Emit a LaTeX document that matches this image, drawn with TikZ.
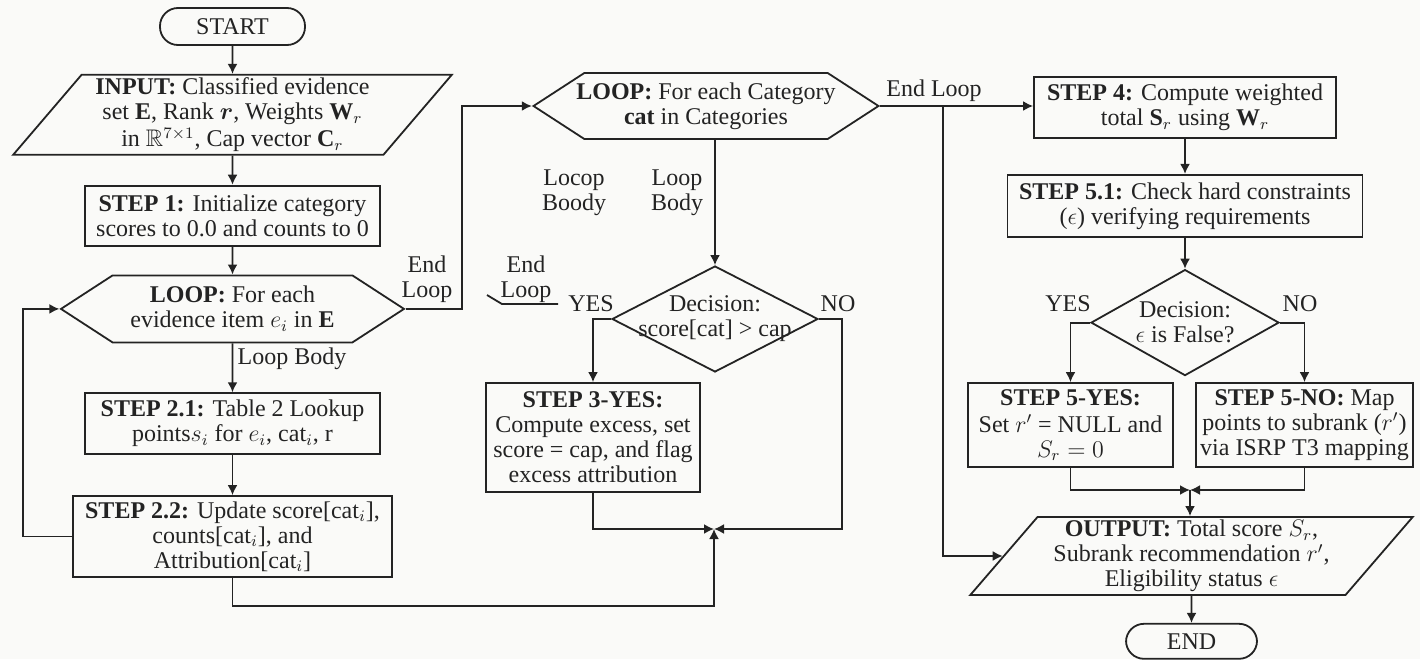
\documentclass[tikz,border=0pt]{standalone}
\usepackage{amsmath}
\usepackage{amsfonts}
\usepackage{fontspec}
\setmainfont{Liberation Serif}
\usetikzlibrary{shapes.geometric,shapes.symbols,arrows.meta,positioning}
\definecolor{paper}{RGB}{250,250,248}
\definecolor{ink}{RGB}{35,35,35}

\begin{document}
\begin{tikzpicture}[x=0.5pt, y=-0.5pt, >={Latex[length=5pt,width=5pt]},
    font=\fontsize{12}{12.5}\selectfont, line width=0.9pt, color=ink,
    box/.style={draw, rectangle, align=center, inner sep=2pt},
    term/.style={draw, rectangle, rounded corners=9pt, align=center, inner sep=1pt},
    io/.style={draw, trapezium, trapezium left angle=50, trapezium right angle=130, align=center, inner sep=0pt, trapezium stretches=true},
    hexa/.style={draw, signal, signal to=east and west, signal pointer angle=66, align=center, inner xsep=-5pt, inner ysep=2pt},
    decide/.style={draw, diamond, inner sep=0pt},
    lbl/.style={align=center, inner sep=1pt}]
    \fill[paper] (0,0) rectangle (1420,659);

    \node[term, minimum width=72.5pt, minimum height=18.5pt] (start) at (232.5,26.5) {START};
    \node[io, below=14pt of start, minimum width=220pt, minimum height=40pt] (input) {\textbf{INPUT:} Classified evidence\\ set $\mathbf{E}$, Rank $\boldsymbol{r}$, Weights $\mathbf{W}_r$\\[1pt] in $\mathbb{R}^{7\times1}$, Cap vector $\mathbf{C}_r$};
    \node[box, below=14.5pt of input, minimum width=147.5pt, minimum height=30pt] (step1) {\textbf{STEP 1:} Initialize category\\ scores to 0.0 and counts to 0};
    \node[hexa, below=14pt of step1, minimum width=171.5pt, minimum height=33.5pt] (loop1) {\textbf{LOOP:} For each\\ evidence item $e_i$ in $\mathbf{E}$};
    \node[box, below=24.5pt of loop1, minimum width=147.5pt, minimum height=30.5pt] (step21) {\textbf{STEP 2.1:} Table 2 Lookup\\ points$s_i$ for $e_i$, cat$_i$, r};
    \node[box, below=20pt of step21, minimum width=159.5pt, minimum height=40.5pt] (step22) {\textbf{STEP 2.2:} Update score[cat$_i$],\\ counts[cat$_i$], and\\ Attribution[cat$_i$]};

    \node[hexa, minimum width=172.5pt, minimum height=33pt] (loop2) at (706,106) {\textbf{LOOP:} For each Category\\ \textbf{cat} in Categories};
    \node[decide, minimum width=103pt, minimum height=53pt, label={[align=center]center:Decision:\\ score[cat] > cap}] (dec1) at (715,319) {};
    \node[box, minimum width=107pt, minimum height=54.5pt] (step3) at (593,437.5) {\textbf{STEP 3-YES:}\\ Compute excess, set\\ score = cap, and flag\\ excess attribution};
    \coordinate (join1) at (714,529);

    \node[box, minimum width=151pt, minimum height=30.5pt] (step4) at (1185,107.5) {\textbf{STEP 4:} Compute weighted\\ total $\mathbf{S}_r$ using $\mathbf{W}_r$};
    \node[box, below=17.5pt of step4, minimum width=177.5pt, minimum height=31pt] (step51) {\textbf{STEP 5.1:} Check hard constraints\\ ($\epsilon$) verifying requirements};
    \node[decide, below=15.5pt of step51, minimum width=94pt, minimum height=53pt, label={[align=center]center:Decision:\\ $\epsilon$ is False?}] (dec2) {};
    \node[box, minimum width=102.5pt, minimum height=42pt] (step5y) at (1070.5,425) {\textbf{STEP 5-YES:}\\[1pt] Set $r'$ = NULL and\\ $S_r = 0$};
    \node[box, minimum width=108.5pt, minimum height=42pt] (step5n) at (1304.5,425) {\textbf{STEP 5-NO:} Map\\ points to subrank ($r'$)\\ via ISRP T3 mapping};
    \coordinate (join2) at (1190,490);
    \node[io, minimum width=221.5pt, minimum height=39pt] (output) at (1191.5,556) {\textbf{OUTPUT:} Total score $S_r$,\\ Subrank recommendation $r'$,\\ Eligibility status $\epsilon$};
    \node[term, below=13.5pt of output, minimum width=65.5pt, minimum height=17.5pt] (stop) {END};

    \node[lbl] (endloop1) at (427,279) {End\\ Loop};
    \node[lbl] (body1) at (292,359) {Loop Body};
    \node[lbl] (body2) at (574,193) {Locop\\ Boody};
    \node[lbl] (body3) at (677,193) {Loop\\ Body};
    \node[lbl] (endloop2) at (526,279) {End\\ Loop};
    \node[lbl] (yes1) at (591,304) {YES};
    \node[lbl] (no1) at (838,304) {NO};
    \node[lbl] (endloop3) at (934,91) {End Loop};
    \node[lbl] (yes2) at (1068,304) {YES};
    \node[lbl] (no2) at (1300,304) {NO};
    \coordinate (tick) at (487,295);
    \draw (tick) -- ++(15,9) -- ++(56,0);

    \draw[->] (start) -- (input);
    \draw[->] (input) -- (step1);
    \draw[->] (step1) -- (loop1);
    \draw[->] (loop1) -- (step21);
    \draw[->] (step21) -- (step22);
    \draw[->] (step22.west) -- ++(-49,0) |- (loop1.west);
    \draw[->] (loop1.east) -- ++(56,0) |- (loop2.west);
    \draw[->] (step22.south) -- ++(0,28) -| (join1);

    \draw[->] (dec1.north |- loop2.south) -- (dec1.north);
    \draw[->] (dec1.west) -| (step3.north);
    \draw[->] (dec1.east) -- ++(23,0) |- (join1);
    \draw[->] (step3.south) |- (join1);

    \coordinate (split) at ([xshift=31.5pt]loop2.east);
    \draw[->] (loop2.east) -- (loop2.east -| step4.west);
    \draw[->] (split) |- (output.left side);
    \draw[->] (step4) -- (step51);
    \draw[->] (step51) -- (dec2);
    \draw[->] (dec2.west) -| (step5y.north);
    \draw[->] (dec2.east) -| (step5n.north);
    \draw[->] (step5y.south) |- (join2);
    \draw[->] (step5n.south) |- (join2);
    \draw[->] (join2) -- (join2 |- output.north);
    \draw[->] (output) -- (stop);
\end{tikzpicture}
\end{document}
